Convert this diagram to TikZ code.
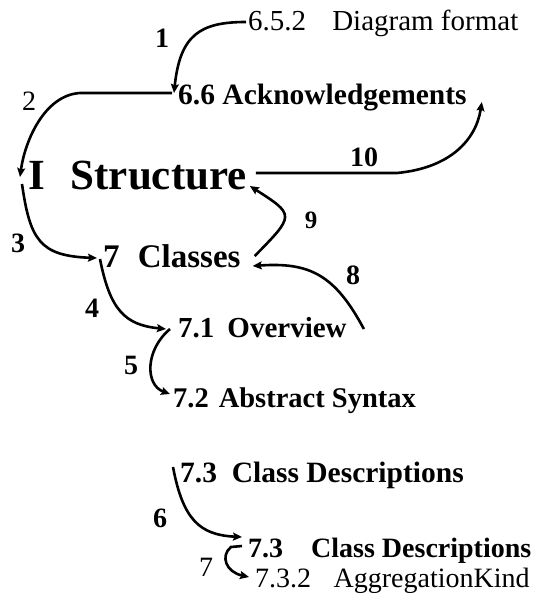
\documentclass[tikz,border=0pt]{standalone}
\usepackage{fontspec}
\setmainfont{Liberation Serif}
\usetikzlibrary{arrows.meta}

\newcommand{\fsz}[1]{\fontsize{#1}{#1}\selectfont}

\begin{document}
\begin{tikzpicture}[x=1pt, y=-1pt,
    sec/.style={anchor=base west, inner sep=0pt, font=\fsz{29}\bfseries},
    sub/.style={anchor=base west, inner sep=0pt, font=\fsz{28}},
    num/.style={inner sep=0pt, font=\fsz{28}\bfseries},
    numr/.style={inner sep=0pt, font=\fsz{28}},
    arrow/.style={-{Stealth[length=9pt,width=8pt,inset=1.5pt]}, line width=2.6pt},
  ]
  \useasboundingbox (0,0) rectangle (538,593);

  % Headings
  \node[sub, font=\fsz{29}] (diag) at (248,31) {6.5.2\hspace{0.9em}Diagram format};
  \node[sec, font=\fsz{29.5}\bfseries] (ack) at (178,105) {6.6 Acknowledgements};
  \node[sec, font=\fsz{43}\bfseries] (struct) at (28,190) {I\hspace{0.6em}Structure};
  \node[sec, font=\fsz{33}\bfseries] (classes) at (103,267) {7\hspace{0.55em}Classes};
  \node[sec] (overview) at (178,337) {7.1\hspace{0.45em}Overview};
  \node[sec, font=\fsz{28.5}\bfseries] (abstract) at (173,407) {7.2\hspace{0.35em}Abstract Syntax};
  \node[sec, font=\fsz{29.5}\bfseries] (descA) at (180,482) {7.3\hspace{0.5em}Class Descriptions};
  \node[sec, font=\fsz{28}\bfseries] (descB) at (248,557) {7.3\hspace{1em}Class Descriptions};
  \node[sub] (aggkind) at (255,587) {7.3.2\hspace{0.8em}AggregationKind};

  % Step numbers
  \node[num] (n1) at (162,38) {1};
  \node[numr] (n2) at (29,101) {2};
  \node[num] (n3) at (18,243) {3};
  \node[num] (n4) at (92,308) {4};
  \node[num] (n5) at (131,365) {5};
  \node[num] (n6) at (160,518) {6};
  \node[numr] (n7) at (206,567) {7};
  \node[num] (n8) at (353,275) {8};
  \node[num, font=\fsz{25}\bfseries] (n9) at (311,220) {9};
  \node[num] (n10) at (364,157) {10};

  % Down the outline
  \draw[arrow] ([shift={(-2,-9)}]diag.base west) .. controls (200,22) and (180,35) .. ([shift={(-4,-12)}]ack.base west);
  \draw[arrow] ([shift={(-6,-12)}]ack.base west) -- (80,93) .. controls (45,95) and (25,140) .. ([shift={(-8,-13)}]struct.base west);
  \draw[arrow] ([shift={(-6,-6)}]struct.base west) .. controls (30,240) and (40,256) .. ([shift={(-6,-9)}]classes.base west);
  \draw[arrow] ([shift={(-3,-8)}]classes.base west) .. controls (110,310) and (125,325) .. ([shift={(-12,-8)}]overview.base west);
  \draw[arrow] ([shift={(-8,-8)}]overview.base west) .. controls (145,350) and (145,385) .. ([shift={(-3,-13)}]abstract.base west);
  \draw[arrow] ([shift={(-7,-15)}]descA.base west) .. controls (183,520) and (200,535) .. ([shift={(-6,-20)}]descB.base west);
  \draw[arrow] ([shift={(-6,-11)}]descB.base west) -- (231,547) .. controls (220,556) and (226,572) .. ([shift={(-6,-10)}]aggkind.base west);

  % Back up again
  \draw[arrow] ([shift={(17,-8)}]overview.base east) .. controls (335,275) and (310,262) .. ([shift={(12,-1)}]classes.base east);
  \draw[arrow] ([shift={(14,-11)}]classes.base east) .. controls (295,215) .. ([shift={(3,-4)}]struct.base east);
  \draw[arrow] ([shift={(9,-17)}]struct.base east) -- (397,173) .. controls (450,168) and (476,140) .. ([shift={(15,-3)}]ack.base east);
\end{tikzpicture}
\end{document}
